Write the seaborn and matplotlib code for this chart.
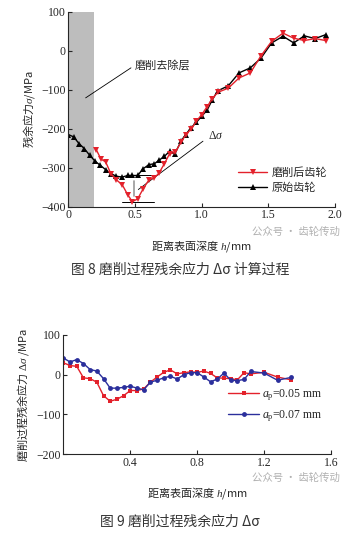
import numpy as np
import pandas as pd
import matplotlib
matplotlib.use("Agg")
import matplotlib.pyplot as plt
import seaborn as sns

sns.set_style("ticks")
plt.rcParams['font.family'] = ['Liberation Serif', 'Noto Sans CJK SC', 'DejaVu Sans']
plt.rcParams['mathtext.fontset'] = 'custom'
plt.rcParams['mathtext.rm'] = 'Liberation Serif'
plt.rcParams['mathtext.it'] = 'Liberation Serif:italic'

# ---- Figure 8 data ----
red_x = [0.21, 0.245, 0.28, 0.32, 0.36, 0.405, 0.445, 0.48, 0.52, 0.56, 0.605, 0.645, 0.68, 0.72,
         0.76, 0.80, 0.845, 0.88, 0.92, 0.96, 1.0, 1.04, 1.08, 1.12, 1.2, 1.28, 1.365, 1.445,
         1.525, 1.61, 1.69, 1.77, 1.85, 1.93]
red_y = [-254, -278, -285, -316, -331, -344, -369, -387, -380, -355, -331, -326, -314, -290,
         -264, -261, -235, -216, -201, -181, -164, -144, -123, -107, -96, -70, -57, -13,
         24, 45, 32, 26, 31, 26]
blk_x = [0.0, 0.04, 0.08, 0.12, 0.16, 0.2, 0.24, 0.28, 0.32, 0.36, 0.405, 0.445, 0.48, 0.52,
         0.56, 0.605, 0.645, 0.68, 0.72, 0.76, 0.80, 0.845, 0.88, 0.92, 0.96, 1.0, 1.04, 1.08,
         1.12, 1.2, 1.28, 1.365, 1.445, 1.525, 1.61, 1.69, 1.77, 1.85, 1.93]
blk_y = [-215, -221, -238, -251, -268, -283, -294, -305, -315, -322, -324, -320, -320, -320,
         -303, -292, -290, -281, -271, -258, -264, -232, -215, -198, -184, -168, -153, -126,
         -103, -90, -57, -44, -19, 20, 37, 20, 38, 31, 41]
top_xticks = [0, 0.5, 1.0, 1.5, 2.0]
top_yticks = [100, 0, -100, -200, -300, -400]
removed_layer = 0.19

# ---- Figure 9 data ----
ap05_x = [0, 0.04, 0.08, 0.12, 0.16, 0.2, 0.24, 0.28, 0.32, 0.36, 0.4, 0.44, 0.48, 0.52, 0.56,
          0.6, 0.64, 0.68, 0.72, 0.76, 0.8, 0.84, 0.88, 0.92, 0.96, 1.0, 1.04, 1.08, 1.12, 1.2,
          1.28, 1.36]
ap05_y = [30, 23, 21, -8, -10, -19, -53, -67, -62, -53, -40, -40, -36, -19, -6,
          6, 12, 2, 5, 7, 6, 9, 3, -8, -9, -10, -13, 5, 2, 6,
          -6, -13]
ap07_x = ap05_x
ap07_y = [42, 32, 38, 28, 13, 9, -10, -34, -34, -32, -29, -34, -38, -19, -14,
          -8, -4, -11, 0, 5, 5, -6, -18, -11, 4, -14, -15, -12, 8, 4,
          -14, -7]
bot_xticks = [0.4, 0.8, 1.2, 1.6]
bot_yticks = [100, 0, -100, -200]

RED = '#e3212b'
BLUE = '#2b2f9c'
cjk = ['Noto Sans CJK SC', 'DejaVu Sans']

fig = plt.figure(figsize=(3.6, 5.33), dpi=100)

# ---------- top chart ----------
ax1 = fig.add_axes([0.1897, 0.6122, 0.7409, 0.3659])
ax1.axvspan(0, removed_layer, color='#bdbdbd', lw=0, zorder=0)
sns.lineplot(x=red_x, y=red_y, ax=ax1, color=RED, marker='v', markersize=4.5, lw=1,
             markeredgewidth=0, sort=False, estimator=None, label='磨削后齿轮', zorder=3)
sns.lineplot(x=blk_x, y=blk_y, ax=ax1, color='black', marker='^', markersize=4.5, lw=1,
             markeredgewidth=0, sort=False, estimator=None, label='原始齿轮', zorder=2)
ax1.set_xlim(0, 2.0)
ax1.set_ylim(-400, 100)
ax1.set_xticks(top_xticks)
ax1.set_xticklabels(['0', '0.5', '1.0', '1.5', '2.0'])
ax1.set_yticks(top_yticks)
ax1.set_yticklabels(['100', '0', '\u2212100', '\u2212200', '\u2212300', '\u2212400'])
ax1.tick_params(direction='in', length=3, width=0.8, labelsize=8.5, pad=2)
sns.despine(ax=ax1)
for s in ['left', 'bottom']:
    ax1.spines[s].set_linewidth(0.8)
ax1.set_xlabel('距离表面深度 $h$/mm', fontsize=8, family=cjk, labelpad=12)
ax1.set_ylabel('残余应力$\\sigma$/MPa', fontsize=8, family=cjk, labelpad=3)
# annotations
ax1.plot([0.13, 0.47], [-121, -44], color='black', lw=0.6)
ax1.text(0.5, -37, '磨削去除层', fontsize=8, family=cjk, va='center')
ax1.plot([0.525, 1.01], [-356, -232], color='black', lw=0.6)
ax1.text(1.05, -220, '$\\Delta\\sigma$', fontsize=8.5, va='center')
ax1.plot([0.52, 0.66], [-320, -320], color='black', lw=0.7)
ax1.plot([0.40, 0.64], [-388, -388], color='black', lw=0.7)
ax1.plot([0.49, 0.49], [-335, -373], color='#999999', lw=1.2)
leg1 = ax1.legend(loc='lower right', bbox_to_anchor=(1.0, 0.03), frameon=False,
                  prop={'family': cjk, 'size': 8}, handlelength=2.6, handletextpad=0.4,
                  labelspacing=0.4, borderpad=0.2)

fig.text(0.70, 0.565, '公众号 · 齿轮传动', fontsize=7.5, color='#b0b0b0', family=cjk,
         ha='left', va='center')
fig.text(0.5, 0.493, '图 8 磨削过程残余应力 Δσ 计算过程', fontsize=10, color='#333333',
         family=cjk, ha='center', va='center')

# ---------- bottom chart ----------
ax2 = fig.add_axes([0.176, 0.1482, 0.7436, 0.2233])
sns.lineplot(x=ap05_x, y=ap05_y, ax=ax2, color=RED, marker='s', markersize=3.2, lw=1,
             markeredgewidth=0, sort=False, estimator=None, label='$a_\\mathrm{p}$=0.05 mm')
sns.lineplot(x=ap07_x, y=ap07_y, ax=ax2, color=BLUE, marker='o', markersize=3.5, lw=1,
             markeredgewidth=0, sort=False, estimator=None, label='$a_\\mathrm{p}$=0.07 mm')
ax2.set_xlim(0, 1.6)
ax2.set_ylim(-200, 100)
ax2.set_xticks(bot_xticks)
ax2.set_xticklabels(['0.4', '0.8', '1.2', '1.6'])
ax2.set_yticks(bot_yticks)
ax2.set_yticklabels(['100', '0', '\u2212100', '\u2212200'])
ax2.tick_params(direction='in', length=3, width=0.8, labelsize=8.5, pad=2)
sns.despine(ax=ax2)
for s in ['left', 'bottom']:
    ax2.spines[s].set_linewidth(0.8)
ax2.set_xlabel('距离表面深度 $h$/mm', fontsize=8, family=cjk, labelpad=12)
ax2.set_ylabel('磨削过程残余应力 $\\Delta\\sigma$ /MPa', fontsize=8, family=cjk, labelpad=4)
ax2.legend(loc='lower right', bbox_to_anchor=(1.0, 0.18), frameon=False,
           prop={'family': 'Liberation Serif', 'size': 8.5}, handlelength=2.6,
           handletextpad=0.3, labelspacing=0.45, borderpad=0.2)

fig.text(0.70, 0.103, '公众号 · 齿轮传动', fontsize=7.5, color='#b0b0b0', family=cjk,
         ha='left', va='center')
fig.text(0.5, 0.022, '图 9 磨削过程残余应力 Δσ', fontsize=10, color='#333333',
         family=cjk, ha='center', va='center')

fig.savefig('out.png', dpi=100)
